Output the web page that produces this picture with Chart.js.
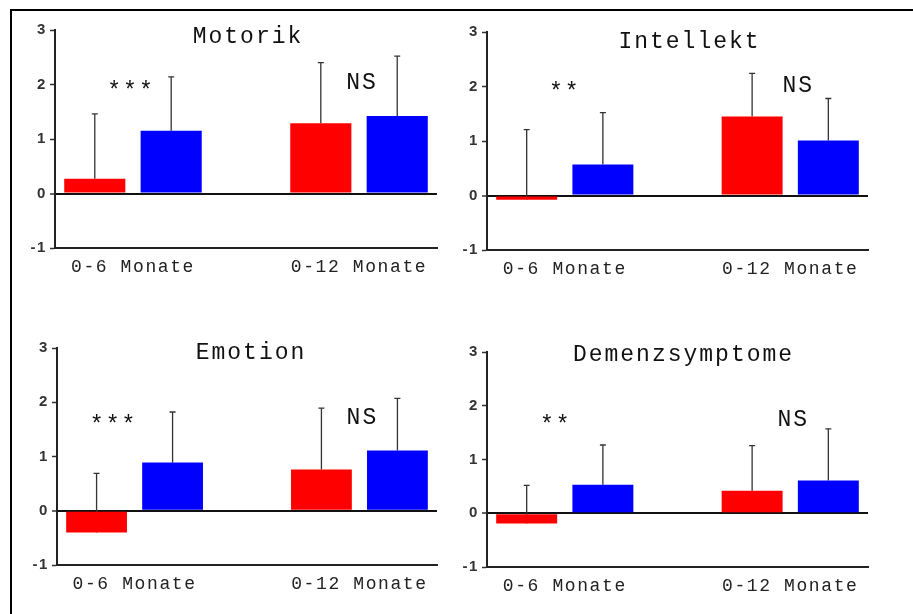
<!DOCTYPE html>
<html>
<head>
<meta charset="utf-8">
<script src="https://cdn.jsdelivr.net/npm/chart.js@4.4.1/dist/chart.umd.min.js"></script>
<style>
  html, body { margin: 0; padding: 0; background: #fff; }
  body { width: 913px; height: 614px; position: relative; overflow: hidden; }
  #frame { position: absolute; left: 10px; top: 9px; width: 920px; height: 620px;
           border-top: 2px solid #000; border-left: 2px solid #000; }
  canvas { position: absolute; }
</style>
</head>
<body>
<div id="frame"></div>
<canvas id="p0"></canvas>
<canvas id="p1"></canvas>
<canvas id="p2"></canvas>
<canvas id="p3"></canvas>
<script>
// Observation periods (x categories) and panel titles
const periods = ['0-6 Monate', '0-12 Monate'];
const titles = ['Motorik', 'Intellekt', 'Emotion', 'Demenzsymptome'];
const yTickValues = [-1, 0, 1, 2, 3];

// Mean change and standard deviation per period, red and blue group
const motorikRed = [0.27, 1.29];
const motorikRedSD = [1.19, 1.11];
const motorikBlue = [1.15, 1.42];
const motorikBlueSD = [0.99, 1.10];
const motorikSig = ['***', 'NS'];

const intellektRed = [-0.08, 1.45];
const intellektRedSD = [1.29, 0.79];
const intellektBlue = [0.57, 1.01];
const intellektBlueSD = [0.95, 0.77];
const intellektSig = ['**', 'NS'];

const emotionRed = [-0.40, 0.76];
const emotionRedSD = [1.09, 1.13];
const emotionBlue = [0.89, 1.11];
const emotionBlueSD = [0.93, 0.96];
const emotionSig = ['***', 'NS'];

const demenzRed = [-0.19, 0.42];
const demenzRedSD = [0.71, 0.84];
const demenzBlue = [0.53, 0.61];
const demenzBlueSD = [0.74, 0.96];
const demenzSig = ['**', 'NS'];

const panelData = [
  { red: motorikRed, redSD: motorikRedSD, blue: motorikBlue, blueSD: motorikBlueSD, sig: motorikSig },
  { red: intellektRed, redSD: intellektRedSD, blue: intellektBlue, blueSD: intellektBlueSD, sig: intellektSig },
  { red: emotionRed, redSD: emotionRedSD, blue: emotionBlue, blueSD: emotionBlueSD, sig: emotionSig },
  { red: demenzRed, redSD: demenzRedSD, blue: demenzBlue, blueSD: demenzBlueSD, sig: demenzSig }
];

// Plot-area placement of each panel on the page, plus text offsets
const layout = [
  { left: 55,  top: 30,  w: 382, h: 218, titleDx: 2,  titleDy: 7,  sigDx: [-2, 3],  sigY: [1.95, 2.03] },
  { left: 487, top: 32,  w: 381, h: 218, titleDx: 12, titleDy: 10, sigDx: [0, 8],   sigY: [1.98, 2.02] },
  { left: 57,  top: 348, w: 380, h: 217, titleDx: 4,  titleDy: 5,  sigDx: [-21, 3], sigY: [1.66, 1.71] },
  { left: 487, top: 352, w: 381, h: 215, titleDx: 6,  titleDy: 3,  sigDx: [-9, 3],  sigY: [1.71, 1.73] }
];

const Y_AXIS_W = 41, X_AXIS_H = 54, PAD_TOP = 18, PAD_RIGHT = 16;
const MONO = '"Courier New", "Liberation Mono", monospace';

// Error whiskers (mean + SD) under the bars, then title and significance marks
const panelDecor = {
  id: 'panelDecor',
  beforeDraw(chart) {
    chart.ctx.letterSpacing = '1.6px';
  },
  beforeDatasetsDraw(chart) {
    const { ctx } = chart;
    const yScale = chart.scales.y;
    ctx.save();
    ctx.strokeStyle = '#333';
    ctx.lineWidth = 1.3;
    chart.data.datasets.forEach((ds, di) => {
      const meta = chart.getDatasetMeta(di);
      meta.data.forEach((bar, i) => {
        const top = yScale.getPixelForValue(ds.data[i].y + ds.sd[i]);
        ctx.beginPath();
        ctx.moveTo(bar.x, bar.y);
        ctx.lineTo(bar.x, top);
        ctx.moveTo(bar.x - 3, top);
        ctx.lineTo(bar.x + 3, top);
        ctx.stroke();
      });
    });
    ctx.restore();
  },
  afterDatasetsDraw(chart, args, opts) {
    const { ctx, chartArea } = chart;
    const xScale = chart.scales.x, yScale = chart.scales.y;
    const L = opts.layout;
    ctx.save();
    ctx.fillStyle = '#111';
    ctx.letterSpacing = '2px';
    ctx.font = '23px ' + MONO;
    ctx.textAlign = 'center';
    ctx.textBaseline = 'middle';
    ctx.fillText(opts.title, (chartArea.left + chartArea.right) / 2 + L.titleDx, chartArea.top + L.titleDy);
    opts.sig.forEach((s, i) => {
      const x = xScale.getPixelForValue(i) + L.sigDx[i];
      let y = yScale.getPixelForValue(L.sigY[i]);
      if (s.startsWith('*')) y += 5;
      ctx.fillText(s, x, y);
    });
    ctx.restore();
  }
};

panelData.forEach((p, k) => {
  const L = layout[k];
  const canvas = document.getElementById('p' + k);
  canvas.width = L.w + Y_AXIS_W + PAD_RIGHT;
  canvas.height = L.h + PAD_TOP + X_AXIS_H;
  canvas.style.left = (L.left - Y_AXIS_W) + 'px';
  canvas.style.top = (L.top - PAD_TOP) + 'px';

  const toPoints = vals => vals.map((v, i) => ({ x: i, y: v }));

  new Chart(canvas, {
    type: 'bar',
    data: {
      datasets: [
        { data: toPoints(p.red), sd: p.redSD, backgroundColor: '#ff0000',
          categoryPercentage: 0.676, barPercentage: 0.80 },
        { data: toPoints(p.blue), sd: p.blueSD, backgroundColor: '#0000ff',
          categoryPercentage: 0.676, barPercentage: 0.80 }
      ]
    },
    options: {
      responsive: false,
      animation: false,
      layout: { padding: { top: PAD_TOP, right: PAD_RIGHT, left: 0, bottom: 0 } },
      plugins: {
        legend: { display: false },
        tooltip: { enabled: false },
        panelDecor: { title: titles[k], sig: p.sig, layout: L }
      },
      scales: {
        x: {
          type: 'linear',
          offset: false,
          min: -0.345,
          max: 1.345,
          afterBuildTicks(scale) { scale.ticks = periods.map((_, i) => ({ value: i })); },
          afterFit(scale) { scale.height = X_AXIS_H; },
          ticks: {
            callback: v => periods[v] ?? '',
            autoSkip: false,
            maxRotation: 0,
            color: '#222',
            padding: 8,
            font: { family: MONO, size: 18 }
          },
          grid: { display: false, drawTicks: false, offset: false },
          border: { display: true, color: '#222', width: 2 }
        },
        y: {
          min: -1,
          max: 3,
          afterBuildTicks(scale) { scale.ticks = yTickValues.map(v => ({ value: v })); },
          afterFit(scale) { scale.width = Y_AXIS_W; },
          ticks: {
            color: '#333',
            padding: 3,
            font: { family: '"Liberation Sans", Arial, sans-serif', size: 15, weight: 'bold' }
          },
          grid: {
            drawOnChartArea: true,
            color: c => (c.tick && c.tick.value === 0 ? '#111' : 'rgba(0,0,0,0)'),
            lineWidth: c => (c.tick && c.tick.value === 0 ? 2 : 1),
            tickColor: '#333',
            tickLength: 5,
            tickWidth: 1.5
          },
          border: { display: true, color: '#222', width: 2 }
        }
      }
    },
    plugins: [panelDecor]
  });
});
</script>
</body>
</html>
